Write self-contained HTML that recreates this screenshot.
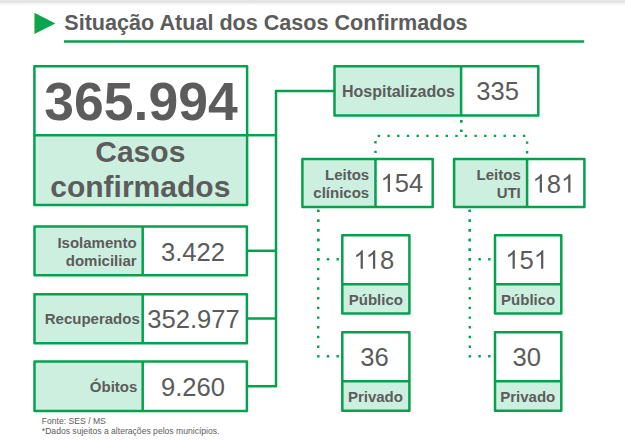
<!DOCTYPE html>
<html><head><meta charset="utf-8">
<style>
html,body{margin:0;padding:0;background:#fff;}
body{width:625px;height:442px;overflow:hidden;position:relative;font-family:"Liberation Sans",sans-serif;}
svg{position:absolute;left:0;top:0;}
text{font-family:"Liberation Sans",sans-serif;fill:#5c5c5c;}
.b{font-weight:bold;}
.n{fill:#5b5b5b;}
.g{stroke:#05a14e;stroke-width:2.5;fill:none;stroke-linejoin:round;}
.f{fill:#cdefdf;stroke:none;}
.d{stroke:#05a14e;stroke-width:2.4;fill:none;stroke-dasharray:2.4 7.3;}
</style></head><body>
<svg width="625" height="442" viewBox="0 0 625 442">
<defs><linearGradient id="sh" x1="0" y1="0" x2="0" y2="1"><stop offset="0" stop-color="#e9e9e9"/><stop offset="0.25" stop-color="#e1e1e1"/><stop offset="0.5" stop-color="#ebebeb"/><stop offset="0.8" stop-color="#f8f8f8"/><stop offset="1" stop-color="#ffffff"/></linearGradient></defs>
<rect x="0" y="0" width="625" height="5.5" fill="url(#sh)"/>
<polygon points="34.3,12.8 55.4,23.4 34.3,34" fill="#0aa550"/>
<line x1="34.4" y1="13.2" x2="34.4" y2="33.6" stroke="#c9c46a" stroke-width="0.7"/>
<text class="b" transform="matrix(1 0 0 1.02 0 -0.6)" x="64.3" y="30" font-size="21.6">Situação Atual dos Casos Confirmados</text>
<line class="g" x1="64" y1="41.5" x2="584.2" y2="41.5"/>
<rect class="f" x="34.4" y="135.2" width="212.70" height="69.90"/>
<rect class="g" x="34.4" y="66.2" width="212.70" height="138.90"/>
<line class="g" x1="34.4" y1="135.2" x2="247.1" y2="135.2"/>
<line class="g" x1="247.1" y1="135.2" x2="276" y2="135.2"/>
<text class="b" transform="matrix(1 0 0 1.012 0 -1.438)" x="141" y="119.8" font-size="53.5" text-anchor="middle">365.994</text>
<text class="b" x="140.3" y="162.2" font-size="30" text-anchor="middle">Casos</text>
<text class="b" x="140.3" y="197.4" font-size="30" text-anchor="middle">confirmados</text>
<polyline class="g" points="334.5,91 276,91 276,386.3 246.9,386.3"/>
<line class="g" x1="246.9" y1="250.8" x2="276" y2="250.8"/>
<line class="g" x1="246.9" y1="318.5" x2="276" y2="318.5"/>
<rect class="f" x="34.5" y="226.6" width="108.20" height="48.70"/>
<rect class="g" x="34.5" y="226.6" width="212.40" height="48.70"/>
<line class="g" x1="142.7" y1="226.6" x2="142.7" y2="275.3"/>
<text class="b" x="136.6" y="247.5" font-size="15" text-anchor="end">Isolamento</text>
<text class="b" x="136.6" y="266.1" font-size="15" text-anchor="end">domiciliar</text>
<text class="n" transform="matrix(1 0 0 1.04 0 -10.436)" x="160.97 175.21 182.32 196.56 210.79" y="260.9" font-size="25.6">3.422</text>
<rect class="f" x="34.5" y="294.3" width="108.20" height="49.00"/>
<rect class="g" x="34.5" y="294.3" width="212.40" height="49.00"/>
<line class="g" x1="142.7" y1="294.3" x2="142.7" y2="343.3"/>
<text class="b" x="139.8" y="324" font-size="15" text-anchor="end">Recuperados</text>
<text class="n" transform="matrix(1 0 0 1.04 0 -13.116)" x="147.23 161.47 175.71 189.94 197.06 211.29 225.53" y="327.9" font-size="25.6">352.977</text>
<rect class="f" x="34.5" y="361.6" width="108.20" height="49.40"/>
<rect class="g" x="34.5" y="361.6" width="212.40" height="49.40"/>
<line class="g" x1="142.7" y1="361.6" x2="142.7" y2="411"/>
<text class="b" x="137.3" y="392" font-size="15" text-anchor="end">Óbitos</text>
<text class="n" transform="matrix(1 0 0 1.04 0 -15.840)" x="160.97 175.21 182.32 196.56 210.79" y="396" font-size="25.6">9.260</text>
<rect class="f" x="334.5" y="66.2" width="126.60" height="49.30"/>
<rect class="g" x="334.5" y="66.2" width="203.80" height="49.30"/>
<line class="g" x1="461.1" y1="66.2" x2="461.1" y2="115.5"/>
<text class="b" x="398.4" y="97.3" font-size="16" text-anchor="middle">Hospitalizados</text>
<text class="n" transform="matrix(1 0 0 1.04 0 -4.012)" x="476.24 490.48 504.72" y="100.3" font-size="25.6">335</text>
<path class="d" d="M461.2,115.5 V135.9 H375.5 V159" stroke-dashoffset="-4.5"/>
<path class="d" d="M461.2,115.5 V135.9 H527.1 V159" stroke-dashoffset="-4.5"/>
<rect class="f" x="302.4" y="159" width="73.10" height="48.00"/>
<rect class="g" x="302.4" y="159" width="130.30" height="48.00"/>
<line class="g" x1="375.5" y1="159" x2="375.5" y2="207"/>
<text class="b" x="369.2" y="180.1" font-size="15" text-anchor="end">Leitos</text>
<text class="b" x="369.2" y="197.6" font-size="15" text-anchor="end">clínicos</text>
<path class="n" transform="translate(380.44,192.1) scale(0.01250,-0.01250)" d="M763 0H583V1147Q518 1085 412.5 1023Q307 961 223 930V1104Q374 1175 487 1276Q600 1377 647 1472H763Z"/>
<text class="n" transform="matrix(1 0 0 1.04 0 -7.684)" x="394.68 408.92" y="192.1" font-size="25.6">54</text>
<rect class="f" x="454.1" y="159" width="73.00" height="48.00"/>
<rect class="g" x="454.1" y="159" width="130.30" height="48.00"/>
<line class="g" x1="527.1" y1="159" x2="527.1" y2="207"/>
<text class="b" x="520.8" y="180.1" font-size="15" text-anchor="end">Leitos</text>
<text class="b" x="520.8" y="197.6" font-size="15" text-anchor="end">UTI</text>
<path class="n" transform="translate(532.44,192.6) scale(0.01250,-0.01250)" d="M763 0H583V1147Q518 1085 412.5 1023Q307 961 223 930V1104Q374 1175 487 1276Q600 1377 647 1472H763Z"/>
<path class="n" transform="translate(560.92,192.6) scale(0.01250,-0.01250)" d="M763 0H583V1147Q518 1085 412.5 1023Q307 961 223 930V1104Q374 1175 487 1276Q600 1377 647 1472H763Z"/>
<text class="n" transform="matrix(1 0 0 1.04 0 -7.704)" x="546.68" y="192.6" font-size="25.6">8</text>
<path class="d" d="M318.2,207 V259.3 H342" stroke-dashoffset="-2.7"/>
<path class="d" d="M318.2,207 V356.3 H342" stroke-dashoffset="-2.7"/>
<path class="d" d="M469.8,207 V259.3 H495" stroke-dashoffset="-2.7"/>
<path class="d" d="M469.8,207 V356.3 H495" stroke-dashoffset="-2.7"/>
<rect class="f" x="342.3" y="284.3" width="67.10" height="29.20"/>
<rect class="g" x="342.3" y="235.3" width="67.10" height="78.20"/>
<line class="g" x1="342.3" y1="284.3" x2="409.4" y2="284.3"/>
<path class="n" transform="translate(353.34,268.7) scale(0.01250,-0.01250)" d="M763 0H583V1147Q518 1085 412.5 1023Q307 961 223 930V1104Q374 1175 487 1276Q600 1377 647 1472H763Z"/>
<path class="n" transform="translate(365.68,268.7) scale(0.01250,-0.01250)" d="M763 0H583V1147Q518 1085 412.5 1023Q307 961 223 930V1104Q374 1175 487 1276Q600 1377 647 1472H763Z"/>
<text class="n" transform="matrix(1 0 0 1.04 0 -10.748)" x="379.92" y="268.7" font-size="25.6">8</text>
<text class="b" x="375.85" y="304.5" font-size="15" text-anchor="middle">Público</text>
<rect class="f" x="342.3" y="381.3" width="67.10" height="29.50"/>
<rect class="g" x="342.3" y="332.3" width="67.10" height="78.50"/>
<line class="g" x1="342.3" y1="381.3" x2="409.4" y2="381.3"/>
<text class="n" transform="matrix(1 0 0 1.04 0 -14.640)" x="360.31 374.55" y="366" font-size="25.6">36</text>
<text class="b" x="375.45000000000005" y="401.7" font-size="15" text-anchor="middle">Privado</text>
<rect class="f" x="495" y="284.3" width="66.30" height="29.20"/>
<rect class="g" x="495" y="235.3" width="66.30" height="78.20"/>
<line class="g" x1="495" y1="284.3" x2="561.3" y2="284.3"/>
<path class="n" transform="translate(505.29,268.7) scale(0.01250,-0.01250)" d="M763 0H583V1147Q518 1085 412.5 1023Q307 961 223 930V1104Q374 1175 487 1276Q600 1377 647 1472H763Z"/>
<path class="n" transform="translate(533.77,268.7) scale(0.01250,-0.01250)" d="M763 0H583V1147Q518 1085 412.5 1023Q307 961 223 930V1104Q374 1175 487 1276Q600 1377 647 1472H763Z"/>
<text class="n" transform="matrix(1 0 0 1.04 0 -10.748)" x="519.53" y="268.7" font-size="25.6">5</text>
<text class="b" x="528.15" y="304.5" font-size="15" text-anchor="middle">Público</text>
<rect class="f" x="495" y="381.3" width="66.30" height="29.50"/>
<rect class="g" x="495" y="332.3" width="66.30" height="78.50"/>
<line class="g" x1="495" y1="381.3" x2="561.3" y2="381.3"/>
<text class="n" transform="matrix(1 0 0 1.04 0 -14.640)" x="512.61 526.85" y="366" font-size="25.6">30</text>
<text class="b" x="527.75" y="401.7" font-size="15" text-anchor="middle">Privado</text>
<text x="41.8" y="423.7" font-size="8.6">Fonte: SES / MS</text>
<text x="41.8" y="433.5" font-size="8.6">*Dados sujeitos a alterações pelos municípios.</text>
</svg>
</body></html>
